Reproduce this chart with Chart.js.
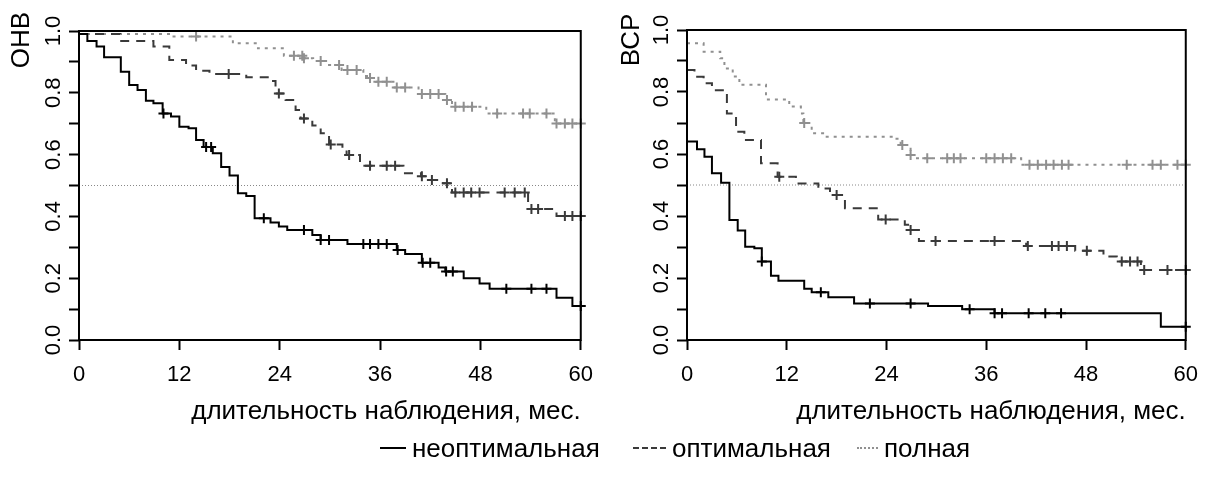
<!DOCTYPE html>
<html>
<head>
<meta charset="utf-8">
<script src="https://cdn.jsdelivr.net/npm/chart.js@4.4.1/dist/chart.umd.min.js"></script>
<style>
  body { margin: 0; background: #fff; width: 1210px; height: 477px; position: relative; overflow: hidden;
         font-family: "Liberation Sans", Arial, sans-serif; }
  .panel { position: absolute; top: 0; width: 605px; height: 477px; }
  .item { position: absolute; top: 433px; height: 30px; line-height: 30px; font-size: 26px; color: #000; white-space: nowrap; }
  .sample { position: absolute; top: 14px; height: 0; }
</style>
</head>
<body>
<div class="panel" style="left:0"><canvas id="onv" width="605" height="477"></canvas></div>
<div class="panel" style="left:605px"><canvas id="vsr" width="605" height="477"></canvas></div>
<div id="legend"></div>
<script>
const xTicks = [0, 12, 24, 36, 48, 60];
const xTickLabels = ['0', '12', '24', '36', '48', '60'];
const yTicks = [0, 0.1, 0.2, 0.3, 0.4, 0.5, 0.6, 0.7, 0.8, 0.9, 1.0];
const yTickLabels = ['0.0', '', '0.2', '', '0.4', '', '0.6', '', '0.8', '', '1.0'];
const groupNames = ['неоптимальная', 'оптимальная', 'полная'];
const xTitle = 'длительность наблюдения, мес.';
const medianLevel = 0.5;

// ОНВ
const onvNeoTime = [0, 1, 2.1, 3, 5, 6, 7, 8, 8.9, 10, 11, 12, 13.1, 14, 14.9, 16, 17, 18, 19, 20, 21, 22.9, 23.9, 24.9, 27.9, 28.9, 32.1, 38, 39, 41, 43, 43.8, 46, 47.9, 49.1, 57.1, 59];
const onvNeoSurv = [0.99, 0.968, 0.95, 0.915, 0.868, 0.825, 0.809, 0.774, 0.766, 0.733, 0.723, 0.69, 0.685, 0.647, 0.625, 0.604, 0.56, 0.532, 0.475, 0.466, 0.394, 0.38, 0.367, 0.356, 0.34, 0.324, 0.311, 0.291, 0.278, 0.25, 0.235, 0.222, 0.2, 0.183, 0.166, 0.137, 0.11];
const onvNeoCens = [10.1, 15.2, 15.8, 22.1, 26.9, 28.9, 29.9, 34, 34.8, 35.8, 36.8, 38.1, 41.1, 42, 43.9, 44.7, 51.1, 54.1, 55.9, 60];

const onvOptTime = [0, 4.9, 8.9, 10.8, 12.8, 14, 15.6, 20, 22.9, 23.5, 24.7, 25.9, 26.5, 27.9, 28.9, 29.9, 31.5, 32, 33.6, 38.8, 40.9, 41.9, 43.5, 44.6, 53.7, 57.1];
const onvOptSurv = [0.99, 0.968, 0.95, 0.906, 0.888, 0.871, 0.861, 0.85, 0.838, 0.798, 0.777, 0.744, 0.717, 0.694, 0.669, 0.633, 0.62, 0.599, 0.564, 0.54, 0.53, 0.518, 0.507, 0.477, 0.424, 0.401];
const onvOptCens = [17.9, 23.9, 26.9, 30.1, 32.3, 34.8, 36.8, 37.8, 41, 42.2, 44, 45, 46, 46.9, 47.9, 50.9, 52.1, 53.3, 54.1, 54.9, 58.1, 59, 60];

const onvFullTime = [0, 11, 18.4, 21.4, 24.5, 26.8, 28, 29.9, 31.4, 34, 34.6, 35.5, 37.6, 40.6, 43.8, 44.6, 48.7, 56.9];
const onvFullSurv = [0.99, 0.982, 0.96, 0.944, 0.92, 0.912, 0.903, 0.89, 0.874, 0.854, 0.848, 0.836, 0.817, 0.796, 0.777, 0.755, 0.733, 0.701];
const onvFullCens = [14, 25.7, 26.7, 26.9, 28.9, 31.1, 32.1, 33.2, 34.8, 35.8, 36.8, 38, 39, 41, 42, 43, 44, 45, 46, 47, 50, 53.1, 53.9, 55.9, 57.1, 58.1, 59, 60];

// ВСР
const vsrNeoTime = [0, 1.2, 2.1, 3, 4.1, 5.1, 6.1, 7, 8.1, 9, 10.1, 11, 14.1, 15, 17, 20.1, 29, 33.1, 37, 57];
const vsrNeoSurv = [0.64, 0.615, 0.591, 0.538, 0.507, 0.387, 0.353, 0.301, 0.296, 0.253, 0.207, 0.191, 0.165, 0.154, 0.138, 0.118, 0.11, 0.099, 0.086, 0.043];
const vsrNeoCens = [9, 16.1, 22, 26.9, 34, 37, 37.9, 41.1, 43.1, 45, 60];

const vsrOptTime = [0, 0.9, 2, 3, 4.8, 5.9, 6.9, 8.9, 10.9, 13.1, 15.8, 17.2, 19, 23, 26.2, 26.6, 27.9, 40.8, 46.7, 50.1, 51.7, 54.6];
const vsrOptSurv = [0.871, 0.849, 0.828, 0.806, 0.731, 0.672, 0.645, 0.57, 0.527, 0.505, 0.489, 0.468, 0.425, 0.389, 0.372, 0.355, 0.319, 0.303, 0.288, 0.269, 0.253, 0.226];
const vsrOptCens = [11.1, 18, 23.9, 26.9, 29.9, 37, 41, 43.9, 44.7, 45.7, 48.1, 52.3, 53.3, 54.2, 55, 57.8, 60];

const vsrFullTime = [0, 2, 4, 4.5, 5.5, 6.3, 9.5, 12.3, 13.7, 14, 15, 16.6, 24.9, 25.7, 26.9, 27.5, 40.2];
const vsrFullSurv = [0.957, 0.93, 0.909, 0.876, 0.85, 0.823, 0.776, 0.753, 0.731, 0.7, 0.667, 0.656, 0.649, 0.629, 0.597, 0.586, 0.565];
const vsrFullCens = [14.1, 25.9, 26.9, 28.9, 31.3, 32.1, 32.9, 36, 37, 38, 39, 41.2, 42.2, 43.2, 44.1, 45.1, 45.9, 52.9, 56, 57, 59, 60];

const FONT = '"Liberation Sans", Arial, sans-serif';
const styles = [
  { color: '#000000', dash: [] },
  { color: '#3a3a3a', dash: [9, 7] },
  { color: '#909090', dash: [3, 5] }
];

function survAt(times, surv, t) {
  let s = surv[0];
  for (let i = 0; i < times.length; i++) {
    if (times[i] <= t) s = surv[i];
  }
  return s;
}

function kmDatasets(curves) {
  const sets = [];
  curves.forEach((c, k) => {
    const st = styles[k];
    const steps = c.time.map((t, i) => ({ x: t, y: c.surv[i] }));
    steps.push({ x: 60, y: c.surv[c.surv.length - 1] });
    sets.push({
      type: 'line', label: groupNames[k], data: steps, stepped: 'before',
      borderColor: st.color, borderDash: st.dash, borderWidth: 2,
      pointRadius: 0, fill: false, order: k
    });
    sets.push({
      type: 'scatter', label: groupNames[k] + ' cens',
      data: c.cens.map(t => ({ x: t, y: survAt(c.time, c.surv, t) })),
      pointStyle: 'cross', pointRadius: 5, borderWidth: 2,
      borderColor: st.color, clip: false, order: k
    });
  });
  sets.push({
    type: 'line', label: 'median', data: [{ x: 0, y: medianLevel }, { x: 60, y: medianLevel }],
    borderColor: '#888', borderWidth: 1, borderDash: [1, 2], pointRadius: 0, order: 10
  });
  return sets;
}

const framePlugin = {
  id: 'frame',
  afterDatasetsDraw(chart) {
    const a = chart.chartArea, ctx = chart.ctx;
    ctx.save();
    ctx.strokeStyle = '#000';
    ctx.lineWidth = 2;
    ctx.strokeRect(a.left, a.top, a.right - a.left, a.bottom - a.top);
    ctx.restore();
  }
};

const yTitlePlugin = {
  id: 'yTitle',
  afterDraw(chart, args, opts) {
    const ctx = chart.ctx;
    ctx.save();
    ctx.translate(opts.x, opts.y);
    ctx.rotate(-Math.PI / 2);
    ctx.font = '26px ' + FONT;
    ctx.fillStyle = '#000';
    ctx.textAlign = 'center';
    ctx.textBaseline = 'middle';
    ctx.fillText(opts.text, 0, 0);
    ctx.restore();
  }
};

function makePanel(id, curves, title, yWidth, top, right, titleX) {
  return new Chart(document.getElementById(id), {
    type: 'line',
    data: { datasets: kmDatasets(curves) },
    plugins: [framePlugin, yTitlePlugin],
    options: {
      responsive: false,
      animation: false,
      layout: { padding: { top: top, right: right, left: 0, bottom: 0 } },
      plugins: {
        legend: { display: false },
        tooltip: { enabled: false },
        yTitle: { text: title, x: titleX, y: 40 }
      },
      scales: {
        x: {
          type: 'linear', min: 0, max: 60,
          afterBuildTicks: s => { s.ticks = xTicks.map(v => ({ value: v })); },
          afterFit: s => { s.height = 477 - 340; },
          ticks: { callback: (v, i) => xTickLabels[i], font: { family: FONT, size: 22 }, color: '#000',
                   padding: 12, maxRotation: 0, autoSkip: false },
          grid: { display: true, drawOnChartArea: false, drawTicks: true, tickLength: 10, tickWidth: 2, tickColor: '#000' },
          border: { display: false },
          title: { display: true, text: xTitle, align: 'end', color: '#000',
                   font: { family: FONT, size: 26 }, padding: { top: 0, bottom: 50 } }
        },
        y: {
          type: 'linear', min: 0, max: 1,
          afterBuildTicks: s => { s.ticks = yTicks.map(v => ({ value: v })); },
          afterFit: s => { s.width = yWidth; },
          ticks: { callback: (v, i) => yTickLabels[i], font: { family: FONT, size: 22 }, color: '#000',
                   minRotation: 90, maxRotation: 90, crossAlign: 'center', padding: 0, autoSkip: false },
          grid: { display: true, drawOnChartArea: false, drawTicks: true, tickLength: 10, tickWidth: 2, tickColor: '#000' },
          border: { display: false }
        }
      }
    }
  });
}

makePanel('onv', [
  { time: onvNeoTime, surv: onvNeoSurv, cens: onvNeoCens },
  { time: onvOptTime, surv: onvOptSurv, cens: onvOptCens },
  { time: onvFullTime, surv: onvFullSurv, cens: onvFullCens }
], 'ОНВ', 79, 31, 22, 22);

makePanel('vsr', [
  { time: vsrNeoTime, surv: vsrNeoSurv, cens: vsrNeoCens },
  { time: vsrOptTime, surv: vsrOptSurv, cens: vsrOptCens },
  { time: vsrFullTime, surv: vsrFullSurv, cens: vsrFullCens }
], 'ВСР', 82, 30, 18, 27);

// legend
const legendPos = [[380, 26], [633, 33], [857, 21]];
const legend = document.getElementById('legend');
groupNames.forEach((name, k) => {
  const st = styles[k];
  const item = document.createElement('div');
  item.className = 'item';
  item.style.left = legendPos[k][0] + 'px';
  const sample = document.createElement('div');
  sample.className = 'sample';
  sample.style.left = '0px';
  sample.style.width = legendPos[k][1] + 'px';
  const kind = k === 0 ? 'solid' : (k === 1 ? 'dashed' : 'dotted');
  sample.style.borderTop = '2px ' + kind + ' ' + st.color;
  const label = document.createElement('span');
  label.textContent = name;
  label.style.marginLeft = (legendPos[k][1] + 6) + 'px';
  item.appendChild(sample);
  item.appendChild(label);
  legend.appendChild(item);
});
</script>
</body>
</html>
